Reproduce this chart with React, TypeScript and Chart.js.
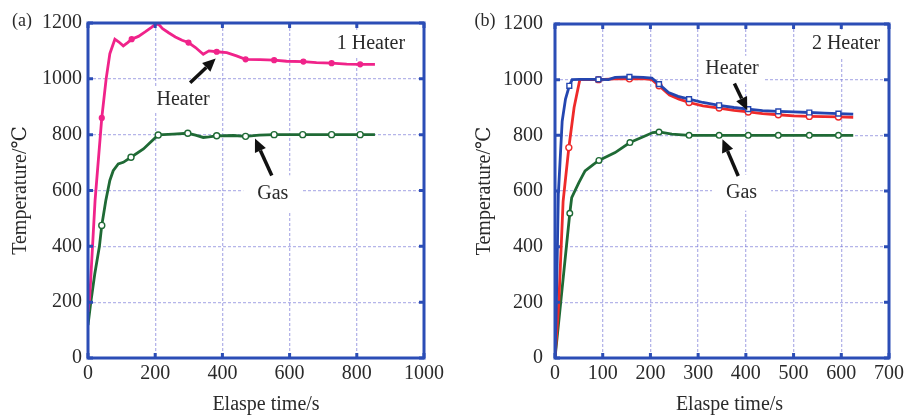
import React, { useEffect, useRef } from 'react';
import { Chart, registerables } from 'chart.js';
Chart.register(...registerables);

// ---------- Panel (a): 1 Heater ----------
const heaterATime = [0, 5, 21, 41, 54, 65, 80, 92, 105, 118, 130, 150, 170, 190, 206, 222, 240, 260, 280, 299, 320, 343, 360, 383, 413, 442, 469, 512, 554, 591, 641, 680, 725, 770, 810, 854];
const heaterATemp = [165, 215, 564, 860, 1000, 1090, 1142, 1132, 1118, 1130, 1142, 1152, 1168, 1185, 1201, 1180, 1165, 1150, 1138, 1130, 1112, 1088, 1100, 1097, 1094, 1082, 1070, 1069, 1067, 1063, 1062, 1058, 1056, 1053, 1052, 1052];
const heaterAMark = [0, 0, 0, 1, 0, 0, 0, 0, 0, 0, 1, 0, 0, 0, 1, 0, 0, 0, 0, 1, 0, 0, 0, 1, 0, 0, 1, 0, 1, 0, 1, 0, 1, 0, 1, 0];

const gasATime = [0, 8, 20, 34, 41, 53, 65, 75, 90, 105, 128, 165, 209, 254, 297, 320, 343, 360, 383, 433, 469, 510, 554, 639, 725, 810, 854];
const gasATemp = [118, 197, 300, 400, 475, 564, 636, 671, 695, 701, 719, 749, 799, 802, 805, 798, 790, 792, 796, 797, 794, 798, 800, 800, 800, 800, 800];
const gasAMark = [0, 0, 0, 0, 1, 0, 0, 0, 0, 0, 1, 0, 1, 0, 1, 0, 0, 0, 1, 0, 1, 0, 1, 1, 1, 1, 0];

// ---------- Panel (b): 2 Heater ----------
const heaterB1Time = [0, 3, 7, 15, 22, 30, 36, 52, 91, 112, 126, 156, 185, 203, 218, 238, 258, 281, 310, 344, 375, 405, 435, 468, 500, 533, 565, 594, 625];
const heaterB1Temp = [0, 200, 588, 850, 930, 978, 1000, 1001, 1001, 1000, 1008, 1010, 1008, 1006, 984, 954, 940, 930, 918, 908, 900, 894, 889, 886, 884, 882, 880, 878, 876];
const heaterB1Mark = [0, 0, 0, 0, 0, 1, 0, 0, 1, 0, 0, 1, 0, 0, 1, 0, 0, 1, 0, 1, 0, 1, 0, 1, 0, 1, 0, 1, 0];

const heaterB2Time = [0, 8, 17, 29, 40, 52, 91, 126, 156, 185, 203, 218, 240, 260, 281, 310, 344, 375, 405, 435, 468, 500, 533, 565, 594, 625];
const heaterB2Temp = [0, 200, 563, 756, 900, 1000, 1000, 1003, 1003, 1004, 1000, 978, 945, 930, 918, 906, 898, 890, 884, 878, 874, 870, 868, 867, 866, 865];
const heaterB2Mark = [0, 0, 0, 1, 0, 0, 1, 0, 1, 0, 0, 1, 0, 0, 1, 0, 1, 0, 1, 0, 1, 0, 1, 0, 1, 0];

const gasBTime = [0, 12, 31, 35, 50, 63, 80, 92, 110, 126, 157, 185, 205, 218, 245, 281, 344, 405, 468, 533, 594, 625];
const gasBTemp = [0, 200, 520, 576, 630, 672, 695, 710, 725, 738, 774, 795, 810, 812, 804, 800, 800, 800, 800, 800, 800, 800];
const gasBMark = [0, 0, 1, 0, 0, 0, 0, 1, 0, 0, 1, 0, 0, 1, 0, 1, 1, 1, 1, 1, 1, 0];

const yTicks = [0, 200, 400, 600, 800, 1000, 1200];
const xTicksA = [0, 200, 400, 600, 800, 1000];
const xTicksB = [0, 100, 200, 300, 400, 500, 600, 700];

const SERIF = '"Liberation Serif", "DejaVu Serif", "Times New Roman", serif';
const FRAME = '#2b4db6';
const GRID = 'rgba(120,120,215,0.55)';
const TEXT = '#2a2a2a';
const PINK = '#f0238a';
const GREEN = '#1f6a35';
const BLUE = '#2446b0';
const RED = '#ee2a2a';

type Label = { text: string; x: number; y: number; padX: number; padY: number };
type Arrow = { from: [number, number]; to: [number, number] };
type Panel = {
  tag: string;
  tagX: number;
  xMax: number;
  xStep: number;
  xTicks: number[];
  yWidth: number;
  rightPad: number;
  yLabelPad: number;
  yTitlePad: number;
  xTitle: string;
  datasets: any[];
  labels: Label[];
  arrows: Arrow[];
};

const pts = (t: number[], v: number[]) => t.map((x, i) => ({ x, y: v[i] }));

function makeSeries(t: number[], v: number[], m: number[], color: string, style: string, r: number, filled: boolean) {
  return {
    data: pts(t, v),
    borderColor: color,
    borderWidth: 2.8,
    tension: 0,
    pointStyle: style,
    pointRadius: m.map((k) => (k ? r : 0)),
    pointBackgroundColor: filled ? color : '#ffffff',
    pointBorderColor: color,
    pointBorderWidth: 1.4,
    pointHoverRadius: 0,
  };
}

const panelA: Panel = {
  tag: '(a)',
  tagX: 22,
  xMax: 1000,
  xStep: 200,
  xTicks: xTicksA,
  yWidth: 88,
  rightPad: 31,
  yLabelPad: 6,
  yTitlePad: 11,
  xTitle: '    Elaspe time/s',
  datasets: [
    makeSeries(heaterATime, heaterATemp, heaterAMark, PINK, 'circle', 2.4, true),
    makeSeries(gasATime, gasATemp, gasAMark, GREEN, 'circle', 3, false),
  ],
  labels: [
    { text: '1 Heater', x: 842, y: 1125, padX: 4, padY: 4 },
    { text: 'Heater', x: 283, y: 925, padX: 4, padY: 3 },
    { text: 'Gas', x: 550, y: 590, padX: 14, padY: 8 },
  ],
  arrows: [
    { from: [304, 986], to: [380, 1073] },
    { from: [547, 654], to: [497, 786] },
  ],
};

const panelB: Panel = {
  tag: '(b)',
  tagX: 30,
  xMax: 700,
  xStep: 100,
  xTicks: xTicksB,
  yWidth: 100,
  rightPad: 20,
  yLabelPad: 12,
  yTitlePad: 20,
  xTitle: '   Elaspe time/s',
  datasets: [
    makeSeries(heaterB1Time, heaterB1Temp, heaterB1Mark, BLUE, 'rect', 3.4, false),
    makeSeries(heaterB2Time, heaterB2Temp, heaterB2Mark, RED, 'circle', 3, false),
    makeSeries(gasBTime, gasBTemp, gasBMark, GREEN, 'circle', 2.8, false),
  ],
  labels: [
    { text: '2 Heater', x: 610, y: 1129, padX: 4, padY: 4 },
    { text: 'Heater', x: 371, y: 1039, padX: 6, padY: 3 },
    { text: 'Gas', x: 391, y: 594, padX: 14, padY: 8 },
  ],
  arrows: [
    { from: [376, 986], to: [403, 890] },
    { from: [384, 654], to: [351, 786] },
  ],
};

function notesPlugin(p: Panel) {
  return {
    id: 'notes',
    beforeDatasetsDraw(chart: any) {
      const { ctx, scales } = chart;
      ctx.save();
      ctx.font = `20px ${SERIF}`;
      ctx.textAlign = 'center';
      ctx.textBaseline = 'middle';
      for (const l of p.labels) {
        const cx = scales.x.getPixelForValue(l.x);
        const cy = scales.y.getPixelForValue(l.y);
        const w = ctx.measureText(l.text).width;
        ctx.fillStyle = '#ffffff';
        ctx.fillRect(cx - w / 2 - l.padX, cy - 10 - l.padY, w + 2 * l.padX, 20 + 2 * l.padY);
        ctx.fillStyle = TEXT;
        ctx.fillText(l.text, cx, cy);
      }
      ctx.restore();
    },
    afterDatasetsDraw(chart: any) {
      const { ctx, scales } = chart;
      ctx.save();
      ctx.strokeStyle = '#111';
      ctx.fillStyle = '#111';
      ctx.lineWidth = 3.5;
      for (const a of p.arrows) {
        const x0 = scales.x.getPixelForValue(a.from[0]);
        const y0 = scales.y.getPixelForValue(a.from[1]);
        const x1 = scales.x.getPixelForValue(a.to[0]);
        const y1 = scales.y.getPixelForValue(a.to[1]);
        const ang = Math.atan2(y1 - y0, x1 - x0);
        const hl = 13;
        const hw = 6;
        const bx = x1 - hl * Math.cos(ang);
        const by = y1 - hl * Math.sin(ang);
        ctx.beginPath();
        ctx.moveTo(x0, y0);
        ctx.lineTo(bx, by);
        ctx.stroke();
        ctx.beginPath();
        ctx.moveTo(x1, y1);
        ctx.lineTo(bx + hw * Math.sin(ang), by - hw * Math.cos(ang));
        ctx.lineTo(bx - hw * Math.sin(ang), by + hw * Math.cos(ang));
        ctx.closePath();
        ctx.fill();
      }
      ctx.restore();
    },
    afterDraw(chart: any) {
      const { ctx, chartArea: a, scales } = chart;
      ctx.save();
      ctx.strokeStyle = FRAME;
      ctx.lineWidth = 3;
      ctx.strokeRect(a.left, a.top, a.right - a.left, a.bottom - a.top);
      const tl = 5;
      ctx.beginPath();
      for (const v of p.xTicks) {
        const x = scales.x.getPixelForValue(v);
        ctx.moveTo(x, a.bottom);
        ctx.lineTo(x, a.bottom - tl);
        ctx.moveTo(x, a.top);
        ctx.lineTo(x, a.top + tl);
      }
      for (const v of yTicks) {
        const y = scales.y.getPixelForValue(v);
        ctx.moveTo(a.left, y);
        ctx.lineTo(a.left + tl, y);
        ctx.moveTo(a.right, y);
        ctx.lineTo(a.right - tl, y);
      }
      ctx.stroke();
      ctx.fillStyle = TEXT;
      ctx.font = `18px ${SERIF}`;
      ctx.textAlign = 'center';
      ctx.textBaseline = 'middle';
      ctx.fillText(p.tag, p.tagX, 21);
      ctx.restore();
    },
  };
}

function PanelChart({ p, left, width }: { p: Panel; left: number; width: number }) {
  const ref = useRef<HTMLCanvasElement | null>(null);
  useEffect(() => {
    if (!ref.current) return;
    const chart = new Chart(ref.current, {
      type: 'line',
      data: { datasets: p.datasets },
      plugins: [notesPlugin(p)],
      options: {
        responsive: false,
        animation: false,
        events: [],
        layout: { padding: { top: 23, right: p.rightPad, left: 0, bottom: 0 } },
        plugins: { legend: { display: false }, tooltip: { enabled: false } },
        scales: {
          x: {
            type: 'linear',
            min: 0,
            max: p.xMax,
            afterFit: (s: any) => {
              s.height = 57;
            },
            ticks: {
              stepSize: p.xStep,
              padding: 4,
              color: TEXT,
              font: { family: SERIF, size: 20 },
              maxRotation: 0,
              callback: (v: any) => String(v),
            },
            grid: { color: GRID, lineWidth: 1.3, drawTicks: false },
            border: { display: false, dash: [3, 2] },
            title: {
              display: true,
              text: p.xTitle,
              color: TEXT,
              font: { family: SERIF, size: 20, lineHeight: 1 },
              padding: { top: 0, bottom: 0 },
            },
          },
          y: {
            type: 'linear',
            min: 0,
            max: 1200,
            afterFit: (s: any) => {
              s.width = p.yWidth;
            },
            ticks: {
              stepSize: 200,
              padding: p.yLabelPad,
              color: TEXT,
              font: { family: SERIF, size: 20 },
              callback: (v: any) => String(v),
            },
            grid: { color: GRID, lineWidth: 1.3, drawTicks: false },
            border: { display: false, dash: [3, 2] },
            title: {
              display: true,
              text: 'Temperature/℃',
              color: TEXT,
              font: { family: SERIF, size: 20, lineHeight: 1 },
              padding: { top: p.yTitlePad, bottom: 0 },
            },
          },
        },
      } as any,
    });
    return () => chart.destroy();
  }, [p]);
  return (
    <canvas
      ref={ref}
      width={width}
      height={415}
      style={{ position: 'absolute', left, top: 0, width, height: 415, display: 'block' }}
    />
  );
}

export default function App() {
  return (
    <div style={{ position: 'absolute', left: 0, top: 0, width: 909, height: 415, background: '#ffffff', overflow: 'hidden' }}>
      <PanelChart p={panelA} left={0} width={455} />
      <PanelChart p={panelB} left={455} width={454} />
    </div>
  );
}
